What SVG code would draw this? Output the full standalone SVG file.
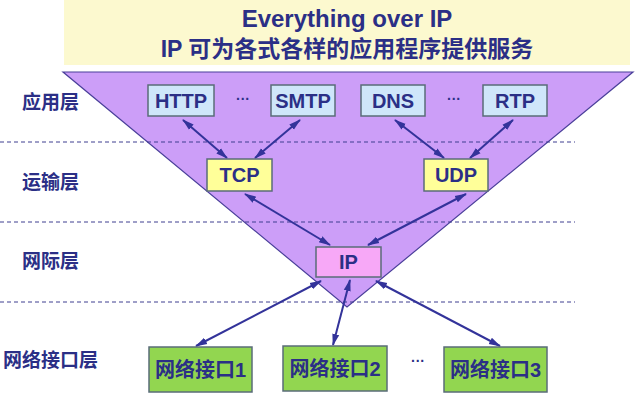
<svg xmlns="http://www.w3.org/2000/svg" width="643" height="400" viewBox="0 0 643 400">
<style>
.t{font-family:"Liberation Sans","Noto Sans CJK SC",sans-serif;font-weight:bold;fill:#2B2F86}
.c{text-anchor:middle}
.box{stroke:#5A6C78;stroke-width:1.5}
.app{fill:#CFE6FA}
.tr{fill:#FFFF99}
.ip{fill:#F7A8F7}
.ni{fill:#92D650}
.dash{stroke:#3E3E90;stroke-width:1;stroke-dasharray:4 3}
.arr{stroke:#33339A;stroke-width:2;fill:none;marker-start:url(#ah);marker-end:url(#ah)}
</style>
<defs>
<marker id="ah" viewBox="0 0 12 10" refX="11" refY="5" markerWidth="6" markerHeight="5" orient="auto-start-reverse" markerUnits="strokeWidth">
<path d="M0,1.5 L12,5 L0,8.5 Z" fill="#33339A"/>
</marker>
</defs>
<rect width="643" height="400" fill="#FFFFFF"/>
<g id="banner">
<rect x="64" y="0" width="566" height="65" fill="#FCF9CF"/>
<text class="t c" x="347" y="27" font-size="24">Everything over IP</text>
<text class="t c" x="347" y="57" font-size="23">IP 可为各式各样的应用程序提供服务</text>
</g>
<g id="hourglass">
<polygon points="63,72 633,72 347,307" fill="#CC9EF8" stroke="#4A3F9A" stroke-width="1.2"/>
</g>
<g id="layers">
<line class="dash" x1="0" y1="142" x2="575" y2="142"/>
<line class="dash" x1="0" y1="222" x2="575" y2="222"/>
<line class="dash" x1="0" y1="302" x2="575" y2="302"/>
<text class="t" x="22" y="109" font-size="19">应用层</text>
<text class="t" x="22" y="189" font-size="19">运输层</text>
<text class="t" x="22" y="268" font-size="19">网际层</text>
<text class="t" x="3" y="367" font-size="19">网络接口层</text>
</g>
<g id="connectors">
<line class="arr" x1="183" y1="120" x2="227" y2="158"/>
<line class="arr" x1="300" y1="120" x2="255" y2="158"/>
<line class="arr" x1="395" y1="120" x2="444" y2="158"/>
<line class="arr" x1="513" y1="120" x2="470" y2="158"/>
<line class="arr" x1="245" y1="194" x2="330" y2="245"/>
<line class="arr" x1="466" y1="194" x2="368" y2="245"/>
<line class="arr" x1="321" y1="281" x2="196" y2="346"/>
<line class="arr" x1="350" y1="280" x2="333" y2="345"/>
<line class="arr" x1="376" y1="281" x2="500" y2="346"/>
</g>
<g id="http"><rect class="box app" x="148" y="85" width="66" height="31"/><text class="t c" x="181" y="108" font-size="20">HTTP</text></g>
<g id="dots1"><text class="t c" x="243" y="104" font-size="14">···</text></g>
<g id="smtp"><rect class="box app" x="271" y="85" width="64" height="31"/><text class="t c" x="303" y="108" font-size="20">SMTP</text></g>
<g id="dns"><rect class="box app" x="361" y="85" width="64" height="31"/><text class="t c" x="393" y="108" font-size="20">DNS</text></g>
<g id="dots2"><text class="t c" x="454" y="104" font-size="14">···</text></g>
<g id="rtp"><rect class="box app" x="483" y="85" width="64" height="31"/><text class="t c" x="515" y="108" font-size="20">RTP</text></g>
<g id="tcp"><rect class="box tr" x="207" y="159" width="65" height="32"/><text class="t c" x="239.5" y="182" font-size="20">TCP</text></g>
<g id="udp"><rect class="box tr" x="424" y="159" width="64" height="32"/><text class="t c" x="456" y="182" font-size="20">UDP</text></g>
<g id="ip"><rect class="box ip" x="316" y="247" width="65" height="30"/><text class="t c" x="348.5" y="269" font-size="20">IP</text></g>
<g id="ni1"><rect class="box ni" x="149" y="347" width="103" height="45"/><text class="t c" x="200.5" y="377" font-size="20">网络接口1</text></g>
<g id="ni2"><rect class="box ni" x="283" y="346" width="104" height="45"/><text class="t c" x="335" y="376" font-size="20">网络接口2</text></g>
<g id="dots3"><text class="t c" x="418" y="366" font-size="14">···</text></g>
<g id="ni3"><rect class="box ni" x="444" y="347" width="103" height="45"/><text class="t c" x="495.5" y="377" font-size="20">网络接口3</text></g>
</svg>
